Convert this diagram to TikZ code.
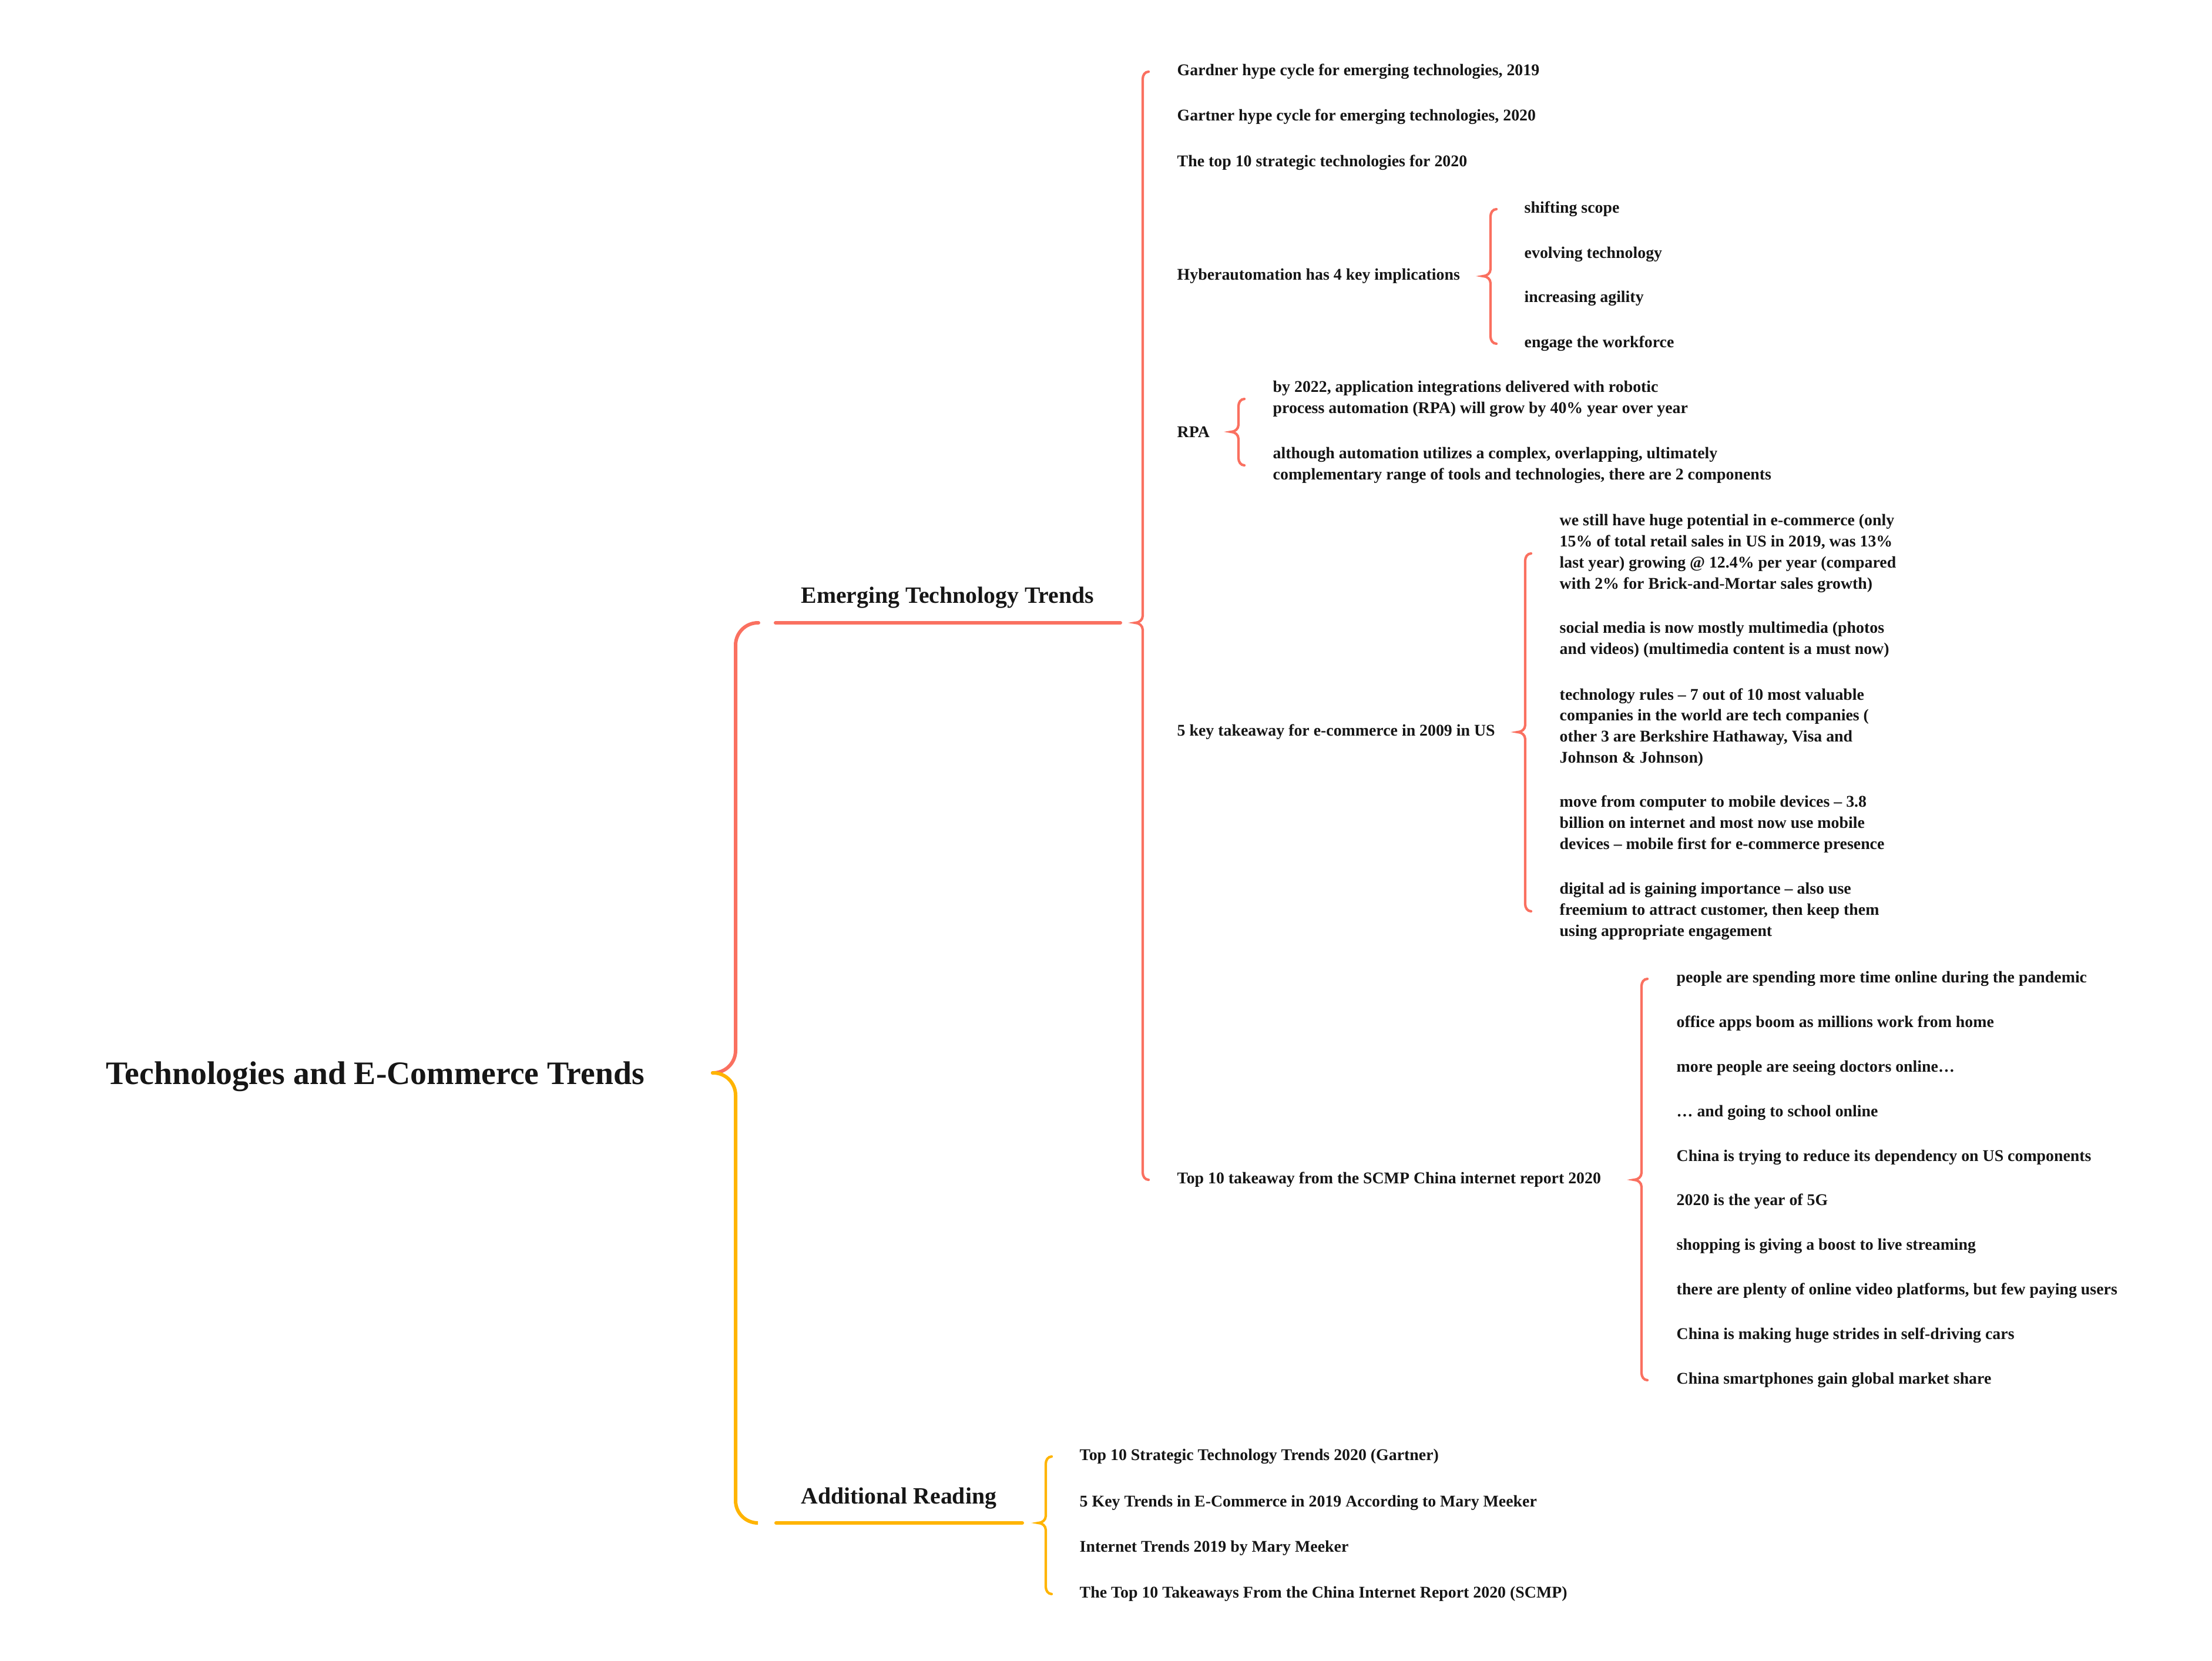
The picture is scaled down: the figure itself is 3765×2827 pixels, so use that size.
\documentclass[tikz,border=0pt]{standalone}
\usepackage{fontspec}
\setmainfont{Liberation Serif}
\usetikzlibrary{calc}

\definecolor{coral}{RGB}{250,112,96}
\definecolor{amber}{RGB}{255,180,0}
\definecolor{ink}{RGB}{22,22,22}

% brace from a parent to its first and last child
\newcommand{\kidbrace}[5]{%
  \draw[#1] let \p1 = (#2,0), \p2 = (#3), \p3 = (#4.west), \p4 = (#5.west) in
    (\x1+0.1cm, \y3) to[out=180, in=90] (\x1, \y3-0.12cm)
    -- (\x1, \y2+0.12cm) to[out=-90, in=0] (\x1-0.13cm, \y2)
    to[out=0, in=90] (\x1, \y2-0.12cm)
    -- (\x1, \y4+0.12cm) to[out=-90, in=180] (\x1+0.1cm, \y4);
}

\begin{document}
\begin{tikzpicture}[x=0.01cm, y=-0.01cm,
  leaf/.style={anchor=west, inner sep=0pt, align=left, text=ink,
    font=\fontsize{7.92}{10.2}\selectfont\bfseries},
  branch/.style={anchor=west, inner sep=0pt, text=ink,
    font=\fontsize{11.3}{14}\selectfont\bfseries},
  root/.style={anchor=west, inner sep=0pt, text=ink,
    font=\fontsize{15.85}{19}\selectfont\bfseries},
  trunk/.style={line width=1.7pt, line cap=round},
  twig/.style={line width=1.2pt, line cap=round}]

  \useasboundingbox (0,0) rectangle (3765,2827);

  \node[root] (root) at (180,1832) {Technologies and E-Commerce Trends};
  \coordinate (hub) at (1213,1826);
  \coordinate (spine) at (1252,1826);

  % emerging technology trends
  \node[branch] (etr) at (1363,1017) {Emerging Technology Trends};
  \coordinate (etr-in) at (1291,1060);
  \coordinate (etr-l) at (1320,1060);
  \coordinate (etr-r) at (1907,1060);
  \draw[trunk, coral, rounded corners=0.38cm] (etr-in) -| (spine) -- (hub);
  \draw[trunk, coral] (etr-l) -- (etr-r);

  \node[leaf] (g19) at (2003,122) {Gardner hype cycle for emerging technologies, 2019};
  \node[leaf] (g20) at (2003,199) {Gartner hype cycle for emerging technologies, 2020};
  \node[leaf] (top10) at (2003,277) {The top 10 strategic technologies for 2020};
  \node[leaf] (hyper) at (2003,470) {Hyberautomation has 4 key implications};
  \node[leaf] (rpa) at (2003,735) {RPA};
  \node[leaf] (fivekey) at (2003,1246) {5 key takeaway for e-commerce in 2009 in US};
  \node[leaf] (scmp) at (2003,2008) {Top 10 takeaway from the SCMP China internet report 2020};
  \kidbrace{twig, coral}{1945}{etr-r}{g19}{scmp}

  \node[leaf] (hy1) at (2594,356) {shifting scope};
  \node[leaf] (hy2) at (2594,433) {evolving technology};
  \node[leaf] (hy3) at (2594,508) {increasing agility};
  \node[leaf] (hy4) at (2594,585) {engage the workforce};
  \kidbrace{twig, coral}{2537}{hyper}{hy1}{hy4}

  \node[leaf] (rp1) at (2166,679) {by 2022, application integrations delivered with robotic\\
    process automation (RPA) will grow by 40\% year over year};
  \node[leaf] (rp2) at (2166,792) {although automation utilizes a complex, overlapping, ultimately\\
    complementary range of tools and technologies, there are 2 components};
  \kidbrace{twig, coral}{2108}{rpa}{rp1}{rp2}

  \node[leaf] (fk1) at (2654,942) {we still have huge potential in e-commerce (only\\
    15\% of total retail sales in US in 2019, was 13\%\\
    last year) growing @ 12.4\% per year (compared\\
    with 2\% for Brick-and-Mortar sales growth)};
  \node[leaf] (fk2) at (2654,1089) {social media is now mostly multimedia (photos\\
    and videos) (multimedia content is a must now)};
  \node[leaf] (fk3) at (2654,1238) {technology rules – 7 out of 10 most valuable\\
    companies in the world are tech companies (\\
    other 3 are Berkshire Hathaway, Visa and\\
    Johnson \& Johnson)};
  \node[leaf] (fk4) at (2654,1403) {move from computer to mobile devices – 3.8\\
    billion on internet and most now use mobile\\
    devices – mobile first for e-commerce presence};
  \node[leaf] (fk5) at (2654,1551) {digital ad is gaining importance – also use\\
    freemium to attract customer, then keep them\\
    using appropriate engagement};
  \kidbrace{twig, coral}{2596}{fivekey}{fk1}{fk5}

  \node[leaf] (sc1) at (2853,1666) {people are spending more time online during the pandemic};
  \node[leaf] (sc2) at (2853,1742) {office apps boom as millions work from home};
  \node[leaf] (sc3) at (2853,1818) {more people are seeing doctors online…};
  \node[leaf] (sc4) at (2853,1894) {… and going to school online};
  \node[leaf] (sc5) at (2853,1970) {China is trying to reduce its dependency on US components};
  \node[leaf] (sc6) at (2853,2045) {2020 is the year of 5G};
  \node[leaf] (sc7) at (2853,2121) {shopping is giving a boost to live streaming};
  \node[leaf] (sc8) at (2853,2197) {there are plenty of online video platforms, but few paying users};
  \node[leaf] (sc9) at (2853,2273) {China is making huge strides in self-driving cars};
  \node[leaf] (sc10) at (2853,2349) {China smartphones gain global market share};
  \kidbrace{twig, coral}{2794}{scmp}{sc1}{sc10}

  % additional reading
  \node[branch] (add) at (1363,2550) {Additional Reading};
  \coordinate (add-in) at (1288,2592);
  \coordinate (add-l) at (1321,2592);
  \coordinate (add-r) at (1740,2592);
  \draw[trunk, amber, rounded corners=0.38cm] (hub) -- (spine) |- (add-in);
  \draw[trunk, amber] (add-l) -- (add-r);

  \node[leaf] (ar1) at (1837,2479) {Top 10 Strategic Technology Trends 2020 (Gartner)};
  \node[leaf] (ar2) at (1837,2558) {5 Key Trends in E-Commerce in 2019 According to Mary Meeker};
  \node[leaf] (ar3) at (1837,2635) {Internet Trends 2019 by Mary Meeker};
  \node[leaf] (ar4) at (1837,2713) {The Top 10 Takeaways From the China Internet Report 2020 (SCMP)};
  \kidbrace{twig, amber}{1780}{add-r}{ar1}{ar4}
\end{tikzpicture}
\end{document}
